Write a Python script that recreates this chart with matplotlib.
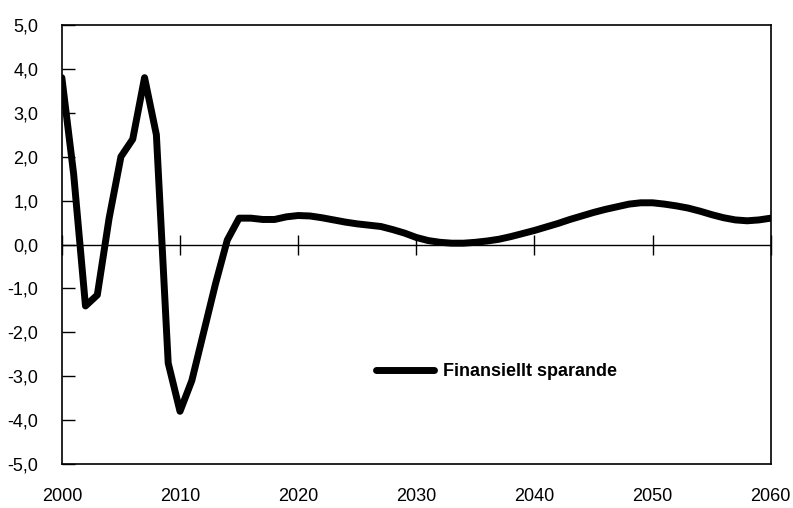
import matplotlib.pyplot as plt
import matplotlib.font_manager as fm

years = list(range(2000, 2061))
sparande = [3.8, 1.6, -1.4, -1.15, 0.6, 2.0, 2.4, 3.8, 2.5, -2.7,
            -3.8, -3.1, -2.0, -0.9, 0.1, 0.6, 0.6, 0.57, 0.57, 0.63,
            0.66, 0.65, 0.61, 0.56, 0.51, 0.47, 0.44, 0.41, 0.34, 0.26,
            0.16, 0.09, 0.05, 0.03, 0.03, 0.05, 0.08, 0.12, 0.18, 0.25,
            0.32, 0.4, 0.48, 0.57, 0.65, 0.73, 0.8, 0.86, 0.92, 0.95,
            0.95, 0.92, 0.88, 0.83, 0.76, 0.68, 0.61, 0.56, 0.54, 0.56, 0.6]
yticks = [-5, -4, -3, -2, -1, 0, 1, 2, 3, 4, 5]
xticks = [2000, 2010, 2020, 2030, 2040, 2050, 2060]

names = {f.name for f in fm.fontManager.ttflist}
fam = 'Liberation Sans Narrow' if 'Liberation Sans Narrow' in names else 'Liberation Sans'
plt.rcParams['font.family'] = [fam, 'DejaVu Sans']

fig = plt.figure(figsize=(7.93, 5.08), dpi=100)
ax = fig.add_axes([0.078, 0.0866, 0.894, 0.8642])

ax.plot(years, sparande, color='black', lw=5, solid_capstyle='round',
        solid_joinstyle='round', label='Finansiellt sparande')
ax.axhline(0, color='black', lw=1)

ax.set_xlim(2000, 2060)
ax.set_ylim(-5, 5)
ax.set_yticks(yticks)
ax.set_yticklabels([f'{v:.1f}'.replace('.', ',') for v in yticks], fontsize=13)
ax.tick_params(axis='y', direction='in', length=9, width=1, pad=17)
ax.set_xticks(xticks)
ax.set_xticklabels([str(v) for v in xticks], fontsize=13)
ax.tick_params(axis='x', length=0, pad=17)

# tick marks sit on the zero line
sec = ax.secondary_xaxis(0.5)
sec.set_xticks(xticks)
sec.tick_params(axis='x', direction='inout', length=14, width=1, labelbottom=False,
                labeltop=False)
sec.spines['bottom'].set_visible(False)
sec.spines['top'].set_visible(False)

for s in ax.spines.values():
    s.set_linewidth(1.2)

leg = ax.legend(loc='center left', bbox_to_anchor=(0.42, 0.21), frameon=False,
                handlelength=3.2, handletextpad=0.5,
                prop={'family': [fam, 'DejaVu Sans'], 'weight': 'bold', 'size': 13})

fig.savefig('out.png', dpi=100)
